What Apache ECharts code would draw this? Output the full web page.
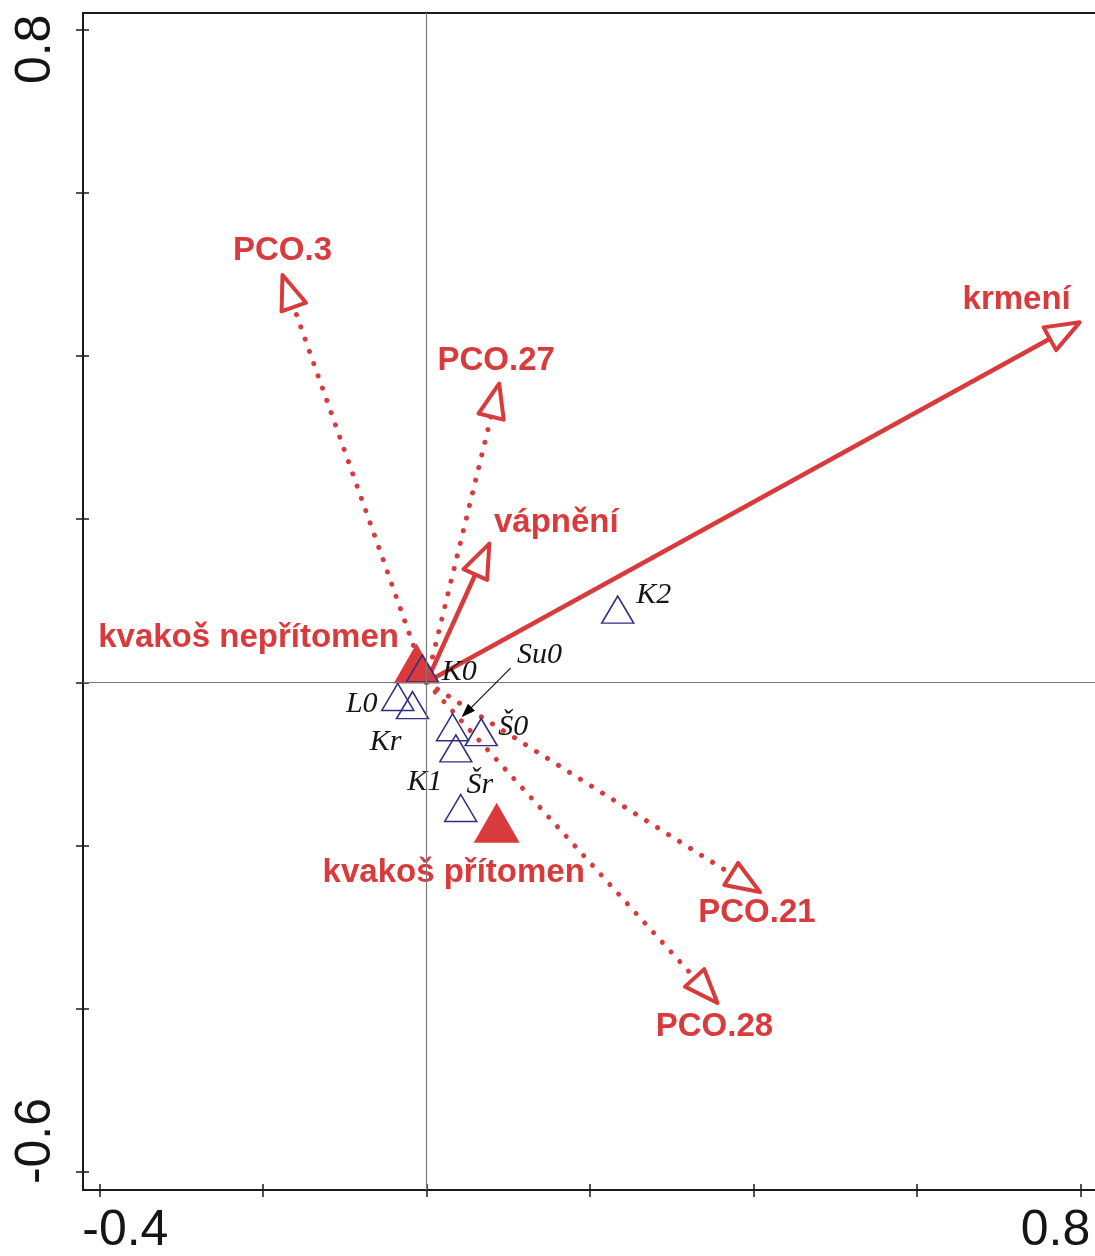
<!DOCTYPE html>
<html>
<head>
<meta charset="utf-8">
<script src="https://cdn.jsdelivr.net/npm/echarts@6/dist/echarts.min.js"></script>
<style>
  html, body { margin: 0; padding: 0; background: #fff; }
  #chart { width: 1095px; height: 1256px; }
</style>
</head>
<body>
<div id="chart"></div>
<script>
// Explanatory and supplementary variables (arrow tips, biplot scores)
const arrowNames = ['krmení', 'vápnění', 'PCO.3', 'PCO.27', 'PCO.21', 'PCO.28'];
const arrowX = [0.799, 0.077, -0.176, 0.089, 0.408, 0.356];
const arrowY = [0.441, 0.170, 0.499, 0.366, -0.257, -0.393];

// Sample scores
const sampleNames = ['K0', 'K1', 'K2', 'Kr', 'L0', 'Su0', 'Š0', 'Šr'];
const sampleX = [-0.005, 0.036, 0.234, -0.017, -0.035, 0.032, 0.067, 0.042];
const sampleY = [0.017, -0.081, 0.089, -0.028, -0.018, -0.055, -0.061, -0.154];

// Centroids of the nominal variable
const centroidNames = ['kvakoš nepřítomen', 'kvakoš přítomen'];
const centroidX = [-0.012, 0.086];
const centroidY = [0.023, -0.172];

// Axis ticks and the labelled ends
const xTicks = [-0.4, -0.2, 0, 0.2, 0.4, 0.6, 0.8];
const yTicks = [-0.6, -0.4, -0.2, 0, 0.2, 0.4, 0.6, 0.8];
const xTickLabels = [-0.4, 0.8];
const yTickLabels = [-0.6, 0.8];

// ---- styling and label layout ----
const RED = '#d93a3c';
const BLUE = '#2f2f82';
const INK = '#151515';
const HEAD_LEN = 34;
const HEAD_HALF = 13;
const dottedArrows = new Set(['PCO.3', 'PCO.27', 'PCO.21', 'PCO.28']);
// pixel offsets of each label from its mark
const arrowLabelOffset = {
  'krmení': [-63, -22], 'vápnění': [67, -21], 'PCO.3': [0, -24],
  'PCO.27': [-3, -23], 'PCO.21': [-3, 21], 'PCO.28': [-3, 24]
};
const sampleLabelOffset = {
  'K0': [37, 4], 'K1': [-31, 34], 'K2': [36, -15], 'Kr': [-27, 37],
  'L0': [-36, 7], 'Su0': [87, -72], 'Š0': [32, -5], 'Šr': [19, -23]
};
const centroidLabelOffset = {
  'kvakoš nepřítomen': [-168, -26], 'kvakoš přítomen': [-43, 50]
};
const leaderSamples = ['Su0'];

const redFont = { color: RED, fontFamily: 'Liberation Sans', fontWeight: 'bold', fontSize: 33 };
const sampleFont = { color: INK, fontFamily: 'Liberation Serif', fontStyle: 'italic', fontSize: 30 };

function renderArrow(params, api) {
  const name = arrowNames[params.dataIndex];
  const tip = api.coord([api.value(0), api.value(1)]);
  const org = api.coord([0, 0]);
  const dx = tip[0] - org[0], dy = tip[1] - org[1];
  const len = Math.hypot(dx, dy);
  const ux = dx / len, uy = dy / len;
  const bx = tip[0] - ux * HEAD_LEN, by = tip[1] - uy * HEAD_LEN;
  const nx = -uy * HEAD_HALF, ny = ux * HEAD_HALF;
  const isDotted = dottedArrows.has(name);
  const off = arrowLabelOffset[name];
  return {
    type: 'group',
    children: [
      {
        type: 'line',
        shape: { x1: org[0], y1: org[1], x2: bx, y2: by },
        style: {
          stroke: RED, lineWidth: isDotted ? 5 : 4.5,
          lineDash: isDotted ? [0.1, 12.9] : null, lineCap: 'round'
        }
      },
      {
        type: 'polygon',
        shape: { points: [[tip[0], tip[1]], [bx + nx, by + ny], [bx - nx, by - ny]] },
        style: { stroke: RED, fill: '#fff', lineWidth: 4, lineJoin: 'round' }
      },
      {
        type: 'text',
        x: tip[0] + off[0], y: tip[1] + off[1],
        style: {
          text: name, fill: RED, fontFamily: 'Liberation Sans', fontWeight: 'bold',
          fontSize: 33, align: 'center', verticalAlign: 'middle'
        }
      }
    ]
  };
}

// thin pointer from a displaced label back to its sample
function renderLeader(params, api) {
  const p = api.coord([api.value(0), api.value(1)]);
  const sx = p[0] + 58, sy = p[1] - 59;
  const ex = p[0] + 9, ey = p[1] - 10;
  const dx = ex - sx, dy = ey - sy, len = Math.hypot(dx, dy);
  const ux = dx / len, uy = dy / len;
  const hl = 14, hw = 5;
  const bx = ex - ux * hl, by = ey - uy * hl;
  return {
    type: 'group',
    children: [
      { type: 'line', shape: { x1: sx, y1: sy, x2: bx, y2: by }, style: { stroke: '#111', lineWidth: 1.2 } },
      {
        type: 'polygon',
        shape: { points: [[ex, ey], [bx - uy * hw, by + ux * hw], [bx + uy * hw, by - ux * hw]] },
        style: { fill: '#000' }
      }
    ]
  };
}

const fmt = v => (Math.round(v * 10) / 10).toFixed(1);

const axisBase = {
  type: 'value',
  axisLine: { show: false, onZero: false },
  splitLine: { show: false }
};

const chart = echarts.init(document.getElementById('chart'), null, { renderer: 'canvas' });

chart.setOption({
  animation: false,
  backgroundColor: '#fff',
  grid: {
    left: 83, top: 13, width: 1022, height: 1177,
    outerBoundsMode: 'none', containLabel: false,
    show: true, borderColor: '#1a1a1a', borderWidth: 2, backgroundColor: 'transparent'
  },
  xAxis: [
    Object.assign({}, axisBase, {
      min: -0.42, max: 0.83, position: 'bottom',
      axisTick: { show: true, customValues: xTicks, length: 7, lineStyle: { color: '#1a1a1a', width: 1.5 } },
      axisLabel: {
        customValues: xTickLabels, margin: 16, fontFamily: 'Liberation Sans', fontSize: 50, color: INK,
        formatter: v => (v < 0 ? '{lo|' : '{hi|') + fmt(v) + '}',
        rich: {
          lo: { fontFamily: 'Liberation Sans', fontSize: 50, color: INK, padding: [0, 0, 0, 52] },
          hi: { fontFamily: 'Liberation Sans', fontSize: 50, color: INK, padding: [0, 50, 0, 0] }
        }
      }
    }),
    Object.assign({}, axisBase, {
      min: -0.42, max: 0.83, position: 'bottom',
      axisTick: { show: true, inside: true, customValues: xTicks, length: 6, lineStyle: { color: '#1a1a1a', width: 1.5 } },
      axisLabel: { show: false }
    })
  ],
  yAxis: [
    Object.assign({}, axisBase, {
      min: -0.622, max: 0.82, position: 'left',
      axisTick: { show: true, customValues: yTicks, length: 7, lineStyle: { color: '#1a1a1a', width: 1.5 } },
      axisLabel: {
        customValues: yTickLabels, rotate: 90, margin: 22, fontFamily: 'Liberation Sans', fontSize: 50, color: INK,
        formatter: v => (v < 0 ? '{lo|' : '{hi|') + fmt(v) + '}',
        rich: {
          lo: { fontFamily: 'Liberation Sans', fontSize: 50, color: INK, padding: [0, 0, 0, 62] },
          hi: { fontFamily: 'Liberation Sans', fontSize: 50, color: INK, padding: [0, 40, 0, 0] }
        }
      }
    }),
    Object.assign({}, axisBase, {
      min: -0.622, max: 0.82, position: 'left',
      axisTick: { show: true, inside: true, customValues: yTicks, length: 6, lineStyle: { color: '#1a1a1a', width: 1.5 } },
      axisLabel: { show: false }
    })
  ],
  series: [
    {
      name: 'centroids',
      type: 'scatter',
      z: 2,
      symbol: 'triangle',
      symbolSize: [46, 40],
      itemStyle: { color: RED, opacity: 1 },
      data: centroidNames.map((n, i) => ({
        name: n,
        value: [centroidX[i], centroidY[i]],
        label: Object.assign({
          show: true, position: 'inside', offset: centroidLabelOffset[n],
          formatter: n, textBorderWidth: 0
        }, redFont)
      })),
      markLine: {
        silent: true,
        symbol: ['none', 'none'],
        label: { show: false },
        lineStyle: { color: '#7a7a7a', width: 1.2, type: 'solid' },
        data: [{ xAxis: 0 }, { yAxis: 0 }]
      }
    },
    {
      name: 'variables',
      type: 'custom',
      z: 3,
      clip: false,
      renderItem: renderArrow,
      data: arrowNames.map((n, i) => [arrowX[i], arrowY[i]])
    },
    {
      name: 'samples',
      type: 'scatter',
      z: 4,
      symbol: 'triangle',
      symbolSize: [32, 27],
      itemStyle: { color: 'transparent', borderColor: BLUE, borderWidth: 1.5, opacity: 1 },
      data: sampleNames.map((n, i) => ({
        name: n,
        value: [sampleX[i], sampleY[i]],
        label: Object.assign({
          show: true, position: 'inside', offset: sampleLabelOffset[n],
          formatter: n, textBorderWidth: 0
        }, sampleFont)
      }))
    },
    {
      name: 'leaders',
      type: 'custom',
      z: 5,
      clip: false,
      renderItem: renderLeader,
      data: leaderSamples.map(n => {
        const i = sampleNames.indexOf(n);
        return [sampleX[i], sampleY[i]];
      })
    }
  ]
});
</script>
</body>
</html>
